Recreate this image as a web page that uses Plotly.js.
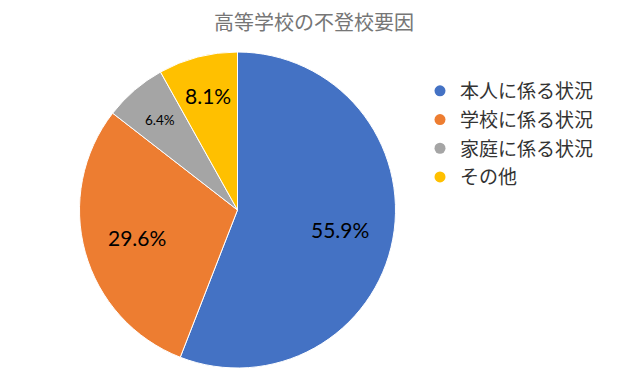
<!DOCTYPE html>
<html>
<head>
<meta charset="utf-8">
<script src="https://cdn.plot.ly/plotly-3.0.1.min.js"></script>
<style>html,body{margin:0;padding:0;background:#fff;}#chart{width:628px;height:388px;}</style>
</head>
<body>
<div id="chart"></div>
<script>
const categories = ["本人に係る状況", "学校に係る状況", "家庭に係る状況", "その他"];
const values = [55.9, 29.6, 6.4, 8.1];
const colors = ["#4472C4", "#ED7D31", "#A5A5A5", "#FFC000"];
const labelSizes = [21, 21, 13.5, 21];
const chartTitle = "高等学校の不登校要因";

const W = 628, H = 388;
const CX = 237.5, CY = 210, R = 158;
const cjk = '"Noto Sans CJK JP", "Noto Sans", sans-serif';

const pie = {
  type: "pie",
  labels: categories,
  values: values,
  sort: false,
  direction: "clockwise",
  rotation: 0,
  marker: {colors: colors, line: {color: "#ffffff", width: 1}},
  textinfo: "none",
  hoverinfo: "none",
  showlegend: false,
  domain: {x: [(CX - R) / W, (CX + R) / W], y: [(H - CY - R) / H, (H - CY + R) / H]}
};

const legendTraces = categories.map((c, i) => ({
  type: "scatter",
  mode: "markers",
  x: [null], y: [null],
  name: c,
  legendgroup: "g" + i,
  marker: {symbol: "circle", size: 11, color: colors[i]},
  hoverinfo: "none",
  showlegend: true
}));

// data labels placed along each slice's mid-angle, derived from the values
const total = values.reduce((a, b) => a + b, 0);
let cum = 0;
const annotations = values.map((v, i) => {
  const mid = (cum + v / 2) / total * 2 * Math.PI;
  cum += v;
  const f = v / total > 0.2 ? 0.66 : 0.75;
  const px = CX + Math.sin(mid) * R * f;
  const py = CY - Math.cos(mid) * R * f;
  return {
    xref: "paper", yref: "paper",
    x: px / W, y: 1 - py / H,
    xanchor: "center", yanchor: "middle",
    text: v.toFixed(1) + "%",
    showarrow: false,
    font: {family: "Lato, sans-serif", size: labelSizes[i], color: "#000000"}
  };
});

const layout = {
  width: W, height: H,
  margin: {l: 0, r: 0, t: 0, b: 0},
  paper_bgcolor: "#ffffff",
  plot_bgcolor: "rgba(0,0,0,0)",
  title: {text: chartTitle, font: {family: cjk, size: 20, color: "#767676"}, x: 0.5, xanchor: "center", y: 1 - 23 / H, yanchor: "middle", yref: "container"},
  xaxis: {visible: false, showgrid: false, zeroline: false},
  yaxis: {visible: false, showgrid: false, zeroline: false},
  showlegend: true,
  annotations: annotations,
  legend: {
    x: 420 / W, xanchor: "left",
    y: 1 - 72 / H, yanchor: "top",
    font: {family: cjk, size: 19, color: "#333333"},
    tracegroupgap: 1,
    bgcolor: "rgba(0,0,0,0)"
  }
};

Plotly.newPlot("chart", [pie].concat(legendTraces), layout, {displayModeBar: false, staticPlot: true});
</script>
</body>
</html>
